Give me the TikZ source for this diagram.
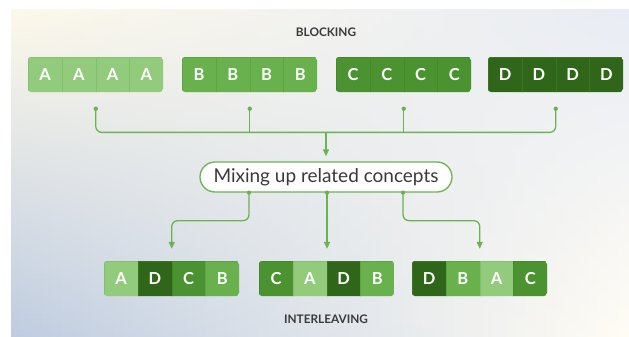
\documentclass[tikz,border=0pt]{standalone}
\usepackage{fontspec}
\setmainfont{Lato}
\usetikzlibrary{arrows.meta,calc,fit}

% block colours and their cell edges
\definecolor{cA}{HTML}{93CB7C}
\definecolor{cB}{HTML}{68B14D}
\definecolor{cC}{HTML}{4A9330}
\definecolor{cD}{HTML}{2F6619}
\definecolor{eA}{HTML}{84BF6C}
\definecolor{eB}{HTML}{5CA542}
\definecolor{eC}{HTML}{438A2A}
\definecolor{eD}{HTML}{3A7424}
\definecolor{link}{HTML}{6AB44F}
\definecolor{labelgray}{HTML}{3A3A3A}
% background corner colours
\definecolor{bgTL}{HTML}{FCF8EA}
\definecolor{bgTR}{HTML}{E8ECF4}
\definecolor{bgBL}{HTML}{BFCCE0}
\definecolor{bgBR}{HTML}{FFFCF4}

\tikzset{
  cellbox/.style={minimum width=33.75pt, minimum height=35pt, inner sep=0pt,
    line width=0.5pt, text=white, font=\bfseries\fontsize{16.5}{16.5}\selectfont},
  wire/.style={draw=link, line width=1.3pt},
  tip/.style={-{Triangle[width=6pt,length=7pt]}},
  heading/.style={text=labelgray, font=\bfseries\fontsize{11.8}{13}\selectfont},
  pill/.style={draw=link, line width=1.3pt, fill=white, rounded corners=15pt,
    minimum width=252pt, minimum height=30pt, inner sep=0pt,
    text=labelgray, font=\fontsize{19}{21}\selectfont},
}

% a row of four lettered cells: name, left x, top y, letters
\newcommand\cellgroup[4]{%
  \begin{scope}
    \clip[rounded corners=3pt] (#2,#3) rectangle ++(135,35);
    \foreach \L [count=\i] in {#4} {
      \node[cellbox, fill=c\L, draw=e\L, anchor=north west]
        (#1-\i) at ({#2+(\i-1)*33.75},#3) {\L};
    }
  \end{scope}
  \node[inner sep=0pt, fit=(#1-1)(#1-4)] (#1) {};
}

\begin{document}
\begin{tikzpicture}[x=1pt, y=-1pt]
  \useasboundingbox (0,0) rectangle (629,337);
  \fill[white] (0,0) rectangle (629,337);

  % soft four-corner background, built from vertical strips
  \foreach \i in {0,...,59} {
    \pgfmathsetmacro\u{\i/59*100}
    \colorlet{stripT}{bgTR!\u!bgTL}
    \colorlet{stripB}{bgBR!\u!bgBL}
    \shade[top color=stripT, bottom color=stripB]
      ({11+\i*10.3},10) rectangle ({11+\i*10.3+10.9},337);
  }

  % headings
  \node[heading] (blocking) at (326,32) {BLOCKING};
  \node[heading] (interleaving) at (326,319) {INTERLEAVING};

  % blocked practice
  \cellgroup{gA}{28}{57}{A,A,A,A}
  \cellgroup{gB}{182}{57}{B,B,B,B}
  \cellgroup{gC}{336}{57}{C,C,C,C}
  \cellgroup{gD}{488}{57}{D,D,D,D}

  % interleaved practice
  \cellgroup{g1}{104}{261}{A,D,C,B}
  \cellgroup{g2}{259}{261}{C,A,D,B}
  \cellgroup{g3}{412}{261}{D,B,A,C}

  % central idea
  \node[pill] (mix) at (326,177) {Mixing up related concepts};

  % gathering line from the blocks
  \foreach \g in {gA,gB,gC,gD} {
    \coordinate (d\g) at ($(\g.south)+(0,16)$);
  }
  \coordinate (hub) at ($(mix.north)+(0,-29)$);
  \draw[wire, rounded corners=6pt] (dgA) -- (dgA |- hub) -- (dgD |- hub) -- (dgD);
  \draw[wire] (dgB) -- (dgB |- hub);
  \draw[wire] (dgC) -- (dgC |- hub);
  \draw[wire, tip] (hub) -- ($(mix.north)+(0,-5)$);
  \foreach \g in {gA,gB,gC,gD} {
    \fill[link] (d\g) circle (2.2pt);
  }

  % branching lines to the mixed rows
  \coordinate (m1) at ($(mix.south)+(-77,0)$);
  \coordinate (m2) at ($(mix.south)+(1,0)$);
  \coordinate (m3) at ($(mix.south)+(77,0)$);
  \draw[wire, tip, rounded corners=6pt] (m1) -- ++(0,28) -| ($(g1.north)+(0,-12)$);
  \draw[wire, tip] (m2) -- (m2 |- {$(g2.north)+(0,-12)$});
  \draw[wire, tip, rounded corners=6pt] (m3) -- ++(0,28) -| ($(g3.north)+(0,-12)$);
  \foreach \m in {m1,m2,m3} {
    \fill[link] (\m) circle (2.2pt);
  }
\end{tikzpicture}
\end{document}
